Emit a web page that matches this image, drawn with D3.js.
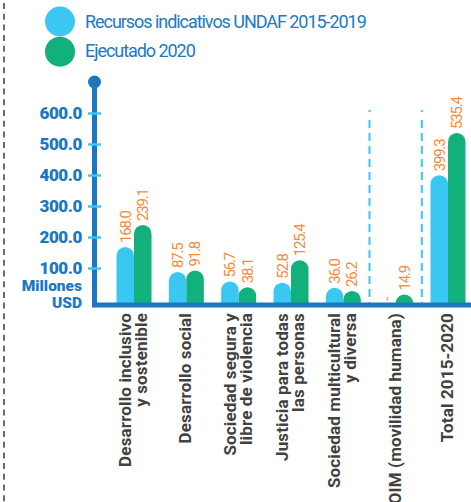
<!DOCTYPE html>
<html>
<head>
<meta charset="utf-8">
<script src="https://cdn.jsdelivr.net/npm/d3@7"></script>
<style>
  body { margin: 0; background: #fff; }
  svg { display: block; font-family: Roboto, "Liberation Sans", sans-serif; }
</style>
</head>
<body>
<script>
// categories (line breaks as in the original)
var categories = [
  ["Desarrollo inclusivo", "y sostenible"],
  ["Desarrollo social"],
  ["Sociedad segura y", "libre de violencia"],
  ["Justicia para todas", "las personas"],
  ["Sociedad multicultural", "y diversa"],
  ["OIM (movilidad humana)"],
  ["Total 2015-2020"]
];
var series = ["Recursos indicativos UNDAF 2015-2019", "Ejecutado 2020"];
var recursos = [168.0, 87.5, 56.7, 52.8, 36.0, null, 399.3];
var ejecutado = [239.1, 91.8, 38.1, 125.4, 26.2, 14.9, 535.4];
var yTicks = [100, 200, 300, 400, 500, 600];

function chart() {
  var width = 471, height = 502;
  var base = 305;

  var blue = "#1b78c0", light = "#3ac8f2", green = "#12b07a",
      orange = "#f7893a", grey = "#414141";

  var svg = d3.select("body").append("svg")
      .attr("width", width)
      .attr("height", height);

  // dashed frame line on the left
  svg.append("line")
      .attr("x1", 4).attr("x2", 4)
      .attr("y1", 3).attr("y2", height)
      .attr("stroke", "#6b6b6b")
      .attr("stroke-width", 2)
      .attr("stroke-dasharray", "6,4.7");

  // legend
  var legend = svg.append("g");
  [light, green].forEach(function(c, i) {
    legend.append("circle")
        .attr("cx", 60).attr("cy", 21.5 + i * 30.2)
        .attr("r", 15)
        .attr("fill", c);
    legend.append("text")
        .attr("x", 85).attr("y", 27.5 + i * 29.5)
        .attr("fill", "#2079c2")
        .style("font-size", "18px")
        .style("letter-spacing", "-1.05px")
        .text(series[i]);
  });

  // scales
  var x = d3.scalePoint()
      .domain(d3.range(categories.length))
      .range([134, 448]);
  var inner = d3.scaleBand()
      .domain([0, 1])
      .range([-17.5, 17.5]);
  var y = d3.scaleLinear()
      .domain([0, 600])
      .range([299, 113]);

  // separators before OIM and Total
  [5, 6].forEach(function(i) {
    var sx = (x(i - 1) + x(i)) / 2;
    svg.append("line")
        .attr("x1", sx).attr("x2", sx)
        .attr("y1", 110).attr("y2", base)
        .attr("stroke", light)
        .attr("stroke-width", 2)
        .attr("stroke-dasharray", "2,8,8,5,8,5,8,5,8,5,8,5,8,5,8,5,8,5,8,5,8,5,8,5,8,5,8,5,8,5");
  });

  // bars with rounded tops
  function barPath(x0, w, top) {
    var r = w / 2;
    var h = base - top;
    if (h < r) r = h;
    return "M" + x0 + "," + base +
      "L" + x0 + "," + (top + r) +
      "A" + (w / 2) + "," + r + " 0 0 1 " + (x0 + w) + "," + (top + r) +
      "L" + (x0 + w) + "," + base + "Z";
  }

  var rows = categories.map(function(c, i) {
    return { i: i, vals: [recursos[i], ejecutado[i]] };
  });

  var groups = svg.selectAll(".grp")
      .data(rows)
      .enter().append("g")
      .attr("class", "grp")
      .attr("transform", function(d) { return "translate(" + x(d.i) + ",0)"; });

  groups.selectAll("path")
      .data(function(d) { return d.vals.map(function(v, k) { return { v: v, k: k }; }); })
      .enter().filter(function(d) { return d.v != null; })
      .append("path")
      .attr("d", function(d) { return barPath(inner(d.k), inner.bandwidth(), y(d.v)); })
      .attr("fill", function(d) { return d.k === 0 ? light : green; });

  // value labels
  groups.selectAll(".val")
      .data(function(d) { return d.vals.map(function(v, k) { return { v: v, k: k }; }); })
      .enter().append("text")
      .attr("class", "val")
      .attr("transform", function(d) {
        var cx = inner(d.k) + inner.bandwidth() / 2;
        var ty = d.v == null ? base - 4 : y(d.v) - 4;
        return "translate(" + cx + "," + ty + ") rotate(-90)";
      })
      .attr("dy", "0.36em")
      .attr("fill", orange)
      .style("font-size", "15px")
      .style("letter-spacing", "-1.2px")
      .text(function(d) { return d.v == null ? "-" : d3.format(".1f")(d.v); });

  // y axis line and cap
  svg.append("line")
      .attr("x1", 94.5).attr("x2", 94.5)
      .attr("y1", 82).attr("y2", base + 2)
      .attr("stroke", blue)
      .attr("stroke-width", 5);
  svg.append("circle")
      .attr("cx", 94.5).attr("cy", 82).attr("r", 6.5)
      .attr("fill", blue);

  // baseline
  svg.append("line")
      .attr("x1", 92).attr("x2", width)
      .attr("y1", base).attr("y2", base)
      .attr("stroke", blue)
      .attr("stroke-width", 5);

  // y axis ticks
  var yAxis = d3.axisLeft(y)
      .tickValues(yTicks)
      .tickFormat(d3.format(".1f"))
      .tickSize(13)
      .tickPadding(6);
  var ga = svg.append("g")
      .attr("transform", "translate(101,0)")
      .call(yAxis);
  ga.select(".domain").remove();
  ga.selectAll(".tick line")
      .attr("stroke", light)
      .attr("stroke-width", 2.5);
  ga.selectAll(".tick text")
      .attr("fill", blue)
      .style("font-family", "Roboto, sans-serif")
      .style("font-size", "17px")
      .style("font-weight", "900")
      .style("letter-spacing", "-0.4px");

  // unit label
  svg.append("text")
      .attr("text-anchor", "end")
      .attr("fill", blue)
      .style("font-size", "15.5px")
      .style("font-weight", "900")
      .style("letter-spacing", "0px")
      .selectAll("tspan")
      .data(["Millones", "USD"])
      .enter().append("tspan")
      .attr("x", 82)
      .attr("y", function(d, i) { return 291 + i * 16.5; })
      .text(function(d) { return d; });

  // category labels, rotated
  var lh = 16;
  groups.append("text")
      .attr("text-anchor", "end")
      .attr("transform", "rotate(-90)")
      .attr("fill", grey)
      .style("font-size", "17px")
      .style("font-weight", "bold")
      .style("letter-spacing", "0.15px")
      .selectAll("tspan")
      .data(function(d) {
        var n = categories[d.i].length;
        return categories[d.i].map(function(t, k) { return { t: t, off: (k - (n - 1) / 2) * lh - 1 }; });
      })
      .enter().append("tspan")
      .attr("x", -313)
      .attr("y", function(d) { return d.off; })
      .attr("dy", "0.36em")
      .text(function(d) { return d.t; });
}

window.onload = chart();
</script>
</body>
</html>
